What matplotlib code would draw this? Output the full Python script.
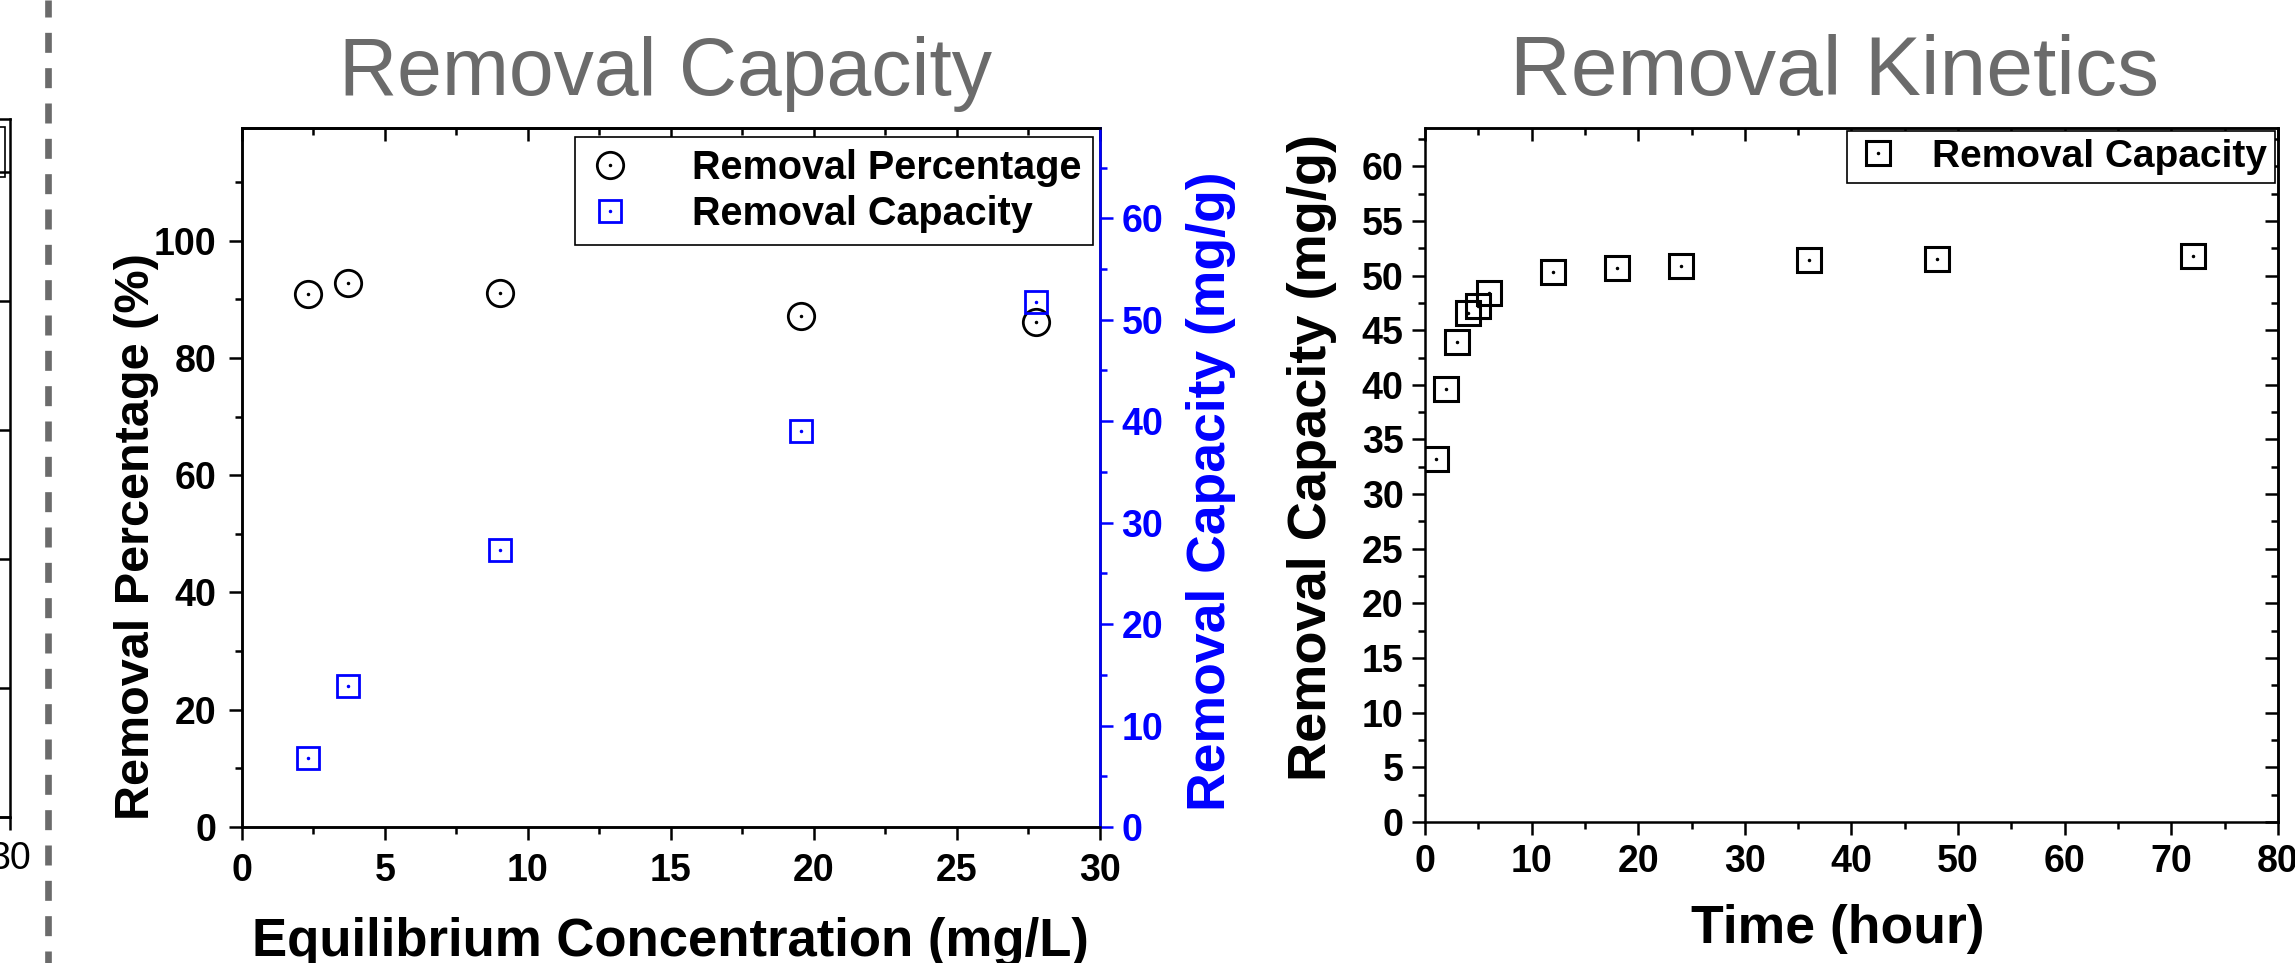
import matplotlib.pyplot as plt
from matplotlib.lines import Line2D
from matplotlib.patches import Rectangle
from matplotlib.ticker import MultipleLocator

plt.rcParams['font.family'] = ['Liberation Sans', 'DejaVu Sans']
plt.rcParams['font.weight'] = 'bold'
plt.rcParams['axes.labelweight'] = 'bold'

# isotherm data (middle panel)
ce = [2.32, 3.71, 9.02, 19.53, 27.77]
removal_pct = [90.9, 92.7, 91.1, 87.2, 86.1]
removal_cap = [6.8, 13.9, 27.3, 39.0, 51.7]

# kinetics data (right panel)
time_h = [1, 2, 3, 4, 5, 6, 12, 18, 24, 36, 48, 72]
cap_t = [33.2, 39.6, 43.9, 46.6, 47.2, 48.4, 50.3, 50.7, 50.9, 51.4, 51.5, 51.8]

blue = '#0000ff'
gray = '#6b6b6b'
LW = 1.8
MAJ, MIN = 9.5, 5.0
TICK_FS = 27


def ticks(ax, axis, direction, color='k', pad=8, labelsize=TICK_FS):
    ax.tick_params(axis=axis, which='major', direction=direction, length=MAJ,
                   width=LW, color=color, labelcolor=color, pad=pad, labelsize=labelsize)
    ax.tick_params(axis=axis, which='minor', direction=direction, length=MIN,
                   width=LW, color=color)


fig = plt.figure(figsize=(22.95, 9.63), dpi=100)

# cut-off panel on the far left
ax0 = fig.add_axes([-0.3, 0.1516, 0.3044, 0.7248])
ax0.set_xlim(0, 30)
ax0.set_ylim(0, 5.41)
ax0.set_xticks([30])
ax0.set_xticklabels(['30'], fontweight='normal', fontsize=27)
ax0.yaxis.tick_right()
ax0.set_yticks(range(6))
ax0.tick_params(axis='y', direction='in', length=MAJ, width=LW, labelright=False)
ax0.tick_params(axis='x', direction='out', length=MAJ, width=LW, pad=8)
for s in ax0.spines.values():
    s.set_linewidth(LW)
ax0.add_patch(Rectangle((0.5, 0.917), 0.4927, 0.0715, transform=ax0.transAxes,
                        fill=False, ec='k', lw=1.2))

# dashed divider
fig.add_artist(Line2D([0.0209, 0.0209], [0, 1], transform=fig.transFigure,
                      color=gray, lw=4.8, linestyle=(1.2, (3.0, 2.3)),
                      solid_capstyle='butt', dash_capstyle='butt'))

# ---- Removal Capacity (isotherm) ----
ax = fig.add_axes([0.1054, 0.1412, 0.3739, 0.7259])
ax2 = ax.twinx()
c1, = ax.plot(ce, removal_pct, 'o', mfc='none', mec='k', ms=19, mew=2.0)
c2, = ax.plot(ce, removal_pct, '.', color='k', ms=3)
s1, = ax2.plot(ce, removal_cap, 's', mfc='none', mec=blue, ms=16, mew=2.0)
s2, = ax2.plot(ce, removal_cap, '.', color=blue, ms=3)

ax.set_xlim(0, 30)
ax.set_ylim(0, 119.2)
ax2.set_ylim(0, 68.9)
ax.xaxis.set_major_locator(MultipleLocator(5))
ax.xaxis.set_minor_locator(MultipleLocator(2.5))
ax.set_yticks(range(0, 101, 20))
ax.yaxis.set_minor_locator(MultipleLocator(10))
ax2.set_yticks(range(0, 61, 10))
ax2.yaxis.set_minor_locator(MultipleLocator(5))
ticks(ax, 'x', 'out', pad=9)
ticks(ax, 'y', 'out', pad=9)
ticks(ax2, 'y', 'out', color=blue, pad=6)
for s in list(ax.spines.values()) + list(ax2.spines.values()):
    s.set_linewidth(LW)
ax2.spines['right'].set_color(blue)

top = ax.secondary_xaxis('top')
top.xaxis.set_major_locator(MultipleLocator(5))
top.xaxis.set_minor_locator(MultipleLocator(2.5))
ticks(top, 'x', 'in')
top.tick_params(axis='x', labeltop=False)
for s in top.spines.values():
    s.set_linewidth(LW)

ax.set_xlabel('Equilibrium Concentration (mg/L)', fontsize=38, va='top')
ax.xaxis.set_label_coords(0.499, -0.128)
ax.set_ylabel('Removal Percentage (%)', fontsize=35)
ax.yaxis.set_label_coords(-0.097, 0.416)
ax2.set_ylabel('Removal Capacity (mg/g)', fontsize=38.5, color=blue, rotation=90, va='top')
ax2.yaxis.set_label_coords(1.100, 0.481)

leg = ax2.legend([(c1, c2), (s1, s2)], ['Removal Percentage', 'Removal Capacity'],
                 loc='upper right', bbox_to_anchor=(0.9918, 0.987), borderaxespad=0,
                 fontsize=28.5, frameon=True, fancybox=False, framealpha=1,
                 edgecolor='k', handlelength=1.2, handletextpad=1.45,
                 labelspacing=0.2, borderpad=0.3)
leg.get_frame().set_linewidth(1.2)

fig.text(0.2898, 0.901, 'Removal Capacity', fontsize=58, fontweight='normal',
         color=gray, ha='center', va='baseline')

# ---- Removal Kinetics ----
ax3 = fig.add_axes([0.6209, 0.1464, 0.3717, 0.7207])
k1, = ax3.plot(time_h, cap_t, 's', mfc='none', mec='k', ms=17.5, mew=2.2)
k2, = ax3.plot(time_h, cap_t, '.', color='k', ms=3)
ax3.set_xlim(0, 80)
ax3.set_ylim(0, 63.5)
ax3.xaxis.set_major_locator(MultipleLocator(10))
ax3.xaxis.set_minor_locator(MultipleLocator(5))
ax3.set_yticks(range(0, 61, 5))
ax3.yaxis.set_minor_locator(MultipleLocator(2.5))
ticks(ax3, 'x', 'out', pad=6)
ticks(ax3, 'y', 'out', pad=6)
for s in ax3.spines.values():
    s.set_linewidth(LW)

top3 = ax3.secondary_xaxis('top')
top3.xaxis.set_major_locator(MultipleLocator(10))
top3.xaxis.set_minor_locator(MultipleLocator(5))
ticks(top3, 'x', 'in')
top3.tick_params(axis='x', labeltop=False)
right3 = ax3.secondary_yaxis('right')
right3.set_yticks(range(0, 61, 5))
right3.yaxis.set_minor_locator(MultipleLocator(2.5))
ticks(right3, 'y', 'in')
right3.tick_params(axis='y', labelright=False)
for a in (top3, right3):
    for s in a.spines.values():
        s.set_linewidth(LW)

ax3.set_xlabel('Time (hour)', fontsize=38.5, va='top')
ax3.xaxis.set_label_coords(0.484, -0.118)
ax3.set_ylabel('Removal Capacity (mg/g)', fontsize=39)
ax3.yaxis.set_label_coords(-0.103, 0.525)

leg3 = ax3.legend([(k1, k2)], ['Removal Capacity'], loc='upper right',
                  bbox_to_anchor=(0.9965, 0.9957), borderaxespad=0,
                  fontsize=28, frameon=True, fancybox=False, framealpha=1,
                  edgecolor='k', handlelength=1.2, handletextpad=0.8, borderpad=0.2)
leg3.get_frame().set_linewidth(1.2)

fig.text(0.7994, 0.901, 'Removal Kinetics', fontsize=60.5, fontweight='normal',
         color=gray, ha='center', va='baseline')

fig.savefig('out.png', dpi=100)
